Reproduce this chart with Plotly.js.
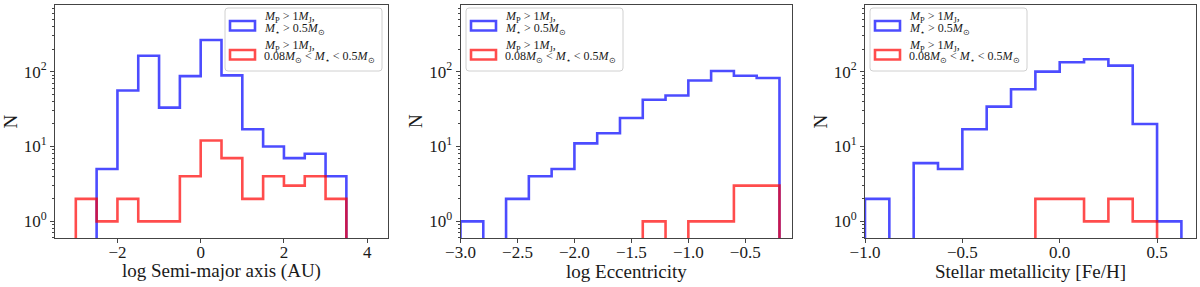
<!DOCTYPE html>
<html>
<head>
<meta charset="utf-8">
<script src="https://cdn.plot.ly/plotly-3.0.1.min.js"></script>
<style>html,body{margin:0;padding:0;background:#fff}#chart{width:1200px;height:287px}</style>
</head>
<body>
<div id="chart"></div>
<script>
// ---------- data ----------
// Panel 1: log semi-major axis (AU), bin edges and counts
const edgesA = [-3.0, -2.5, -2.0, -1.5, -1.0, -0.5, 0.0, 0.5, 1.0, 1.5, 2.0, 2.5, 3.0, 3.5];
const blueA  = [0, 5, 56, 163, 33, 87, 264, 89, 17, 10, 7, 8, 4];
const redA   = [2, 1, 2, 1, 1, 4, 12, 7, 2, 4, 3, 4, 2];

// Panel 2: log eccentricity
const edgesE = [-3.0, -2.8, -2.6, -2.4, -2.2, -2.0, -1.8, -1.6, -1.4, -1.2, -1.0, -0.8, -0.6, -0.4, -0.2];
const blueE  = [1, 0, 2, 4, 5, 11, 15, 24, 42, 48, 76, 102, 88, 82];
const redE   = [0, 0, 0, 0, 0, 0, 0, 0, 1, 0, 1, 1, 3, 3];

// Panel 3: stellar metallicity [Fe/H]
const edgesM = [-1.0, -0.875, -0.75, -0.625, -0.5, -0.375, -0.25, -0.125, 0.0, 0.125, 0.25, 0.375, 0.5, 0.625];
const blueM  = [2, 0, 6, 5, 17, 34, 58, 100, 133, 146, 120, 20, 1];
const redM   = [0, 0, 0, 0, 0, 0, 0, 2, 2, 1, 2, 1, 0];

const xTitles = ['log Semi-major axis (AU)', 'log Eccentricity', 'Stellar metallicity [Fe/H]'];
const yTitle = 'N';
const yTickVals = [1, 10, 100];
const yTickText = ['10<sup>0</sup>', '10<sup>1</sup>', '10<sup>2</sup>'];
const seriesNames = ['blue', 'red'];
const legendLine1 = ['<i>M</i><sub>P</sub> &gt; 1<i>M</i><sub>J</sub>,', '<i>M</i><sub>P</sub> &gt; 1<i>M</i><sub>J</sub>,'];
const legendLine2 = ['<i>M</i><sub>⋆</sub> &gt; 0.5<i>M</i><sub>⊙</sub>',
                     '0.08<i>M</i><sub>⊙</sub> &lt; <i>M</i><sub>⋆</sub> &lt; 0.5<i>M</i><sub>⊙</sub>'];

// ---------- styling / layout ----------
const W = 1200, H = 287;
const px = x => x / W, py = y => 1 - y / H;
const COLORS = ['rgba(0,0,255,0.7)', 'rgba(255,0,0,0.7)'];
const FLOOR = 1e-3;
const FONT = 'Liberation Serif';
const axColor = '#444';
const txtColor = '#1a1a1a';

const panels = [
  {edges: edgesA, blue: blueA, red: redA, dom: [55, 388], xr: [-3.5, 4.5], dtick: 2, tick0: 0, fmt: '', leg: 225},
  {edges: edgesE, blue: blueE, red: redE, dom: [460.5, 792], xr: [-3.0, -0.09], dtick: 0.5, tick0: 0, fmt: '.1f', leg: 466},
  {edges: edgesM, blue: blueM, red: redM, dom: [865, 1196], xr: [-1.0, 0.7], dtick: 0.5, tick0: 0, fmt: '.1f', leg: 870}
];
const yDom = [5, 238];

function stepLine(edges, counts) {
  const xs = [edges[0]], ys = [FLOOR];
  counts.forEach((c, i) => { xs.push(edges[i]); ys.push(c > 0 ? c : FLOOR); });
  const last = counts[counts.length - 1];
  xs.push(edges[edges.length - 1]); ys.push(last > 0 ? last : FLOOR);
  xs.push(edges[edges.length - 1]); ys.push(FLOOR);
  return {xs, ys};
}

function roundRect(x0, y0, x1, y1, r) {
  // pixel coords (top-left origin) -> paper path
  const X = v => px(v), Y = v => py(v);
  return `M${X(x0 + r)},${Y(y0)} L${X(x1 - r)},${Y(y0)} Q${X(x1)},${Y(y0)} ${X(x1)},${Y(y0 + r)} ` +
         `L${X(x1)},${Y(y1 - r)} Q${X(x1)},${Y(y1)} ${X(x1 - r)},${Y(y1)} L${X(x0 + r)},${Y(y1)} ` +
         `Q${X(x0)},${Y(y1)} ${X(x0)},${Y(y1 - r)} L${X(x0)},${Y(y0 + r)} Q${X(x0)},${Y(y0)} ${X(x0 + r)},${Y(y0)} Z`;
}

const traces = [];
const layout = {
  width: W, height: H,
  margin: {l: 0, r: 0, t: 0, b: 0},
  paper_bgcolor: '#fff', plot_bgcolor: '#fff',
  showlegend: false,
  font: {family: FONT, color: txtColor},
  shapes: [], annotations: []
};

panels.forEach((p, k) => {
  const n = k === 0 ? '' : String(k + 1);
  [p.blue, p.red].forEach((cnt, s) => {
    const st = stepLine(p.edges, cnt);
    traces.push({
      type: 'scatter', mode: 'lines', x: st.xs, y: st.ys,
      xaxis: 'x' + n, yaxis: 'y' + n, name: seriesNames[s],
      line: {color: COLORS[s], width: 2.6, shape: 'hv'},
      hoverinfo: 'skip'
    });
  });
  layout['xaxis' + n] = {
    domain: [px(p.dom[0]), px(p.dom[1])], anchor: 'y' + n,
    range: p.xr, tickmode: 'linear', dtick: p.dtick, tick0: p.tick0, tickformat: p.fmt,
    showgrid: false, zeroline: false, showline: true, mirror: true,
    linecolor: axColor, linewidth: 1, ticks: 'outside', ticklen: 4, tickcolor: axColor,
    ticklabelstandoff: -5,
    tickfont: {family: FONT, size: 17, color: txtColor},
    automargin: false
  };
  layout['yaxis' + n] = {
    domain: [py(yDom[1]), py(yDom[0])], anchor: 'x' + n, type: 'log',
    range: [-0.222, 2.889], tickmode: 'array', tickvals: yTickVals, ticktext: yTickText,
    showgrid: false, zeroline: false, showline: true, mirror: true,
    linecolor: axColor, linewidth: 1, ticks: 'outside', ticklen: 4, tickcolor: axColor,
    minor: {ticks: 'outside', ticklen: 2, tickcolor: axColor, dtick: 'D1', showgrid: false},
    tickfont: {family: FONT, size: 17, color: txtColor},
    automargin: false
  };
  // axis titles
  layout.annotations.push({xref: 'paper', yref: 'paper', x: px((p.dom[0] + p.dom[1]) / 2), y: py(271),
    xanchor: 'center', yanchor: 'middle', showarrow: false, text: xTitles[k], borderpad: 0,
    font: {family: FONT, size: 19, color: txtColor}});
  layout.annotations.push({xref: 'paper', yref: 'paper', x: px(p.dom[0] - 45), y: py(121.5),
    xanchor: 'center', yanchor: 'middle', showarrow: false, text: yTitle, textangle: -90, borderpad: 0,
    font: {family: FONT, size: 19, color: txtColor}});
  // legend box
  const L = p.leg;
  layout.shapes.push({type: 'path', xref: 'paper', yref: 'paper', layer: 'above',
    path: roundRect(L, 8, L + 157, 71, 3),
    fillcolor: 'rgba(255,255,255,0.8)', line: {color: '#d0d0d0', width: 1}});
  const symY = [[21, 30.5], [50, 59.5]];
  const txtY = [[17.3, 29], [45.7, 57.3]];
  [0, 1].forEach(s => {
    layout.shapes.push({type: 'rect', xref: 'paper', yref: 'paper', layer: 'above',
      x0: px(L + 5), x1: px(L + 30), y0: py(symY[s][1]), y1: py(symY[s][0]),
      fillcolor: 'rgba(0,0,0,0)', line: {color: COLORS[s], width: 2.6}});
    [legendLine1[s], legendLine2[s]].forEach((t, j) => {
      layout.annotations.push({xref: 'paper', yref: 'paper', x: px(L + 38), y: py(txtY[s][j]),
        xanchor: 'left', yanchor: 'middle', showarrow: false, text: t, borderpad: 0,
        font: {family: FONT, size: 12, color: txtColor}});
    });
  });
});

Plotly.newPlot('chart', traces, layout, {staticPlot: true, displayModeBar: false});
</script>
</body>
</html>
